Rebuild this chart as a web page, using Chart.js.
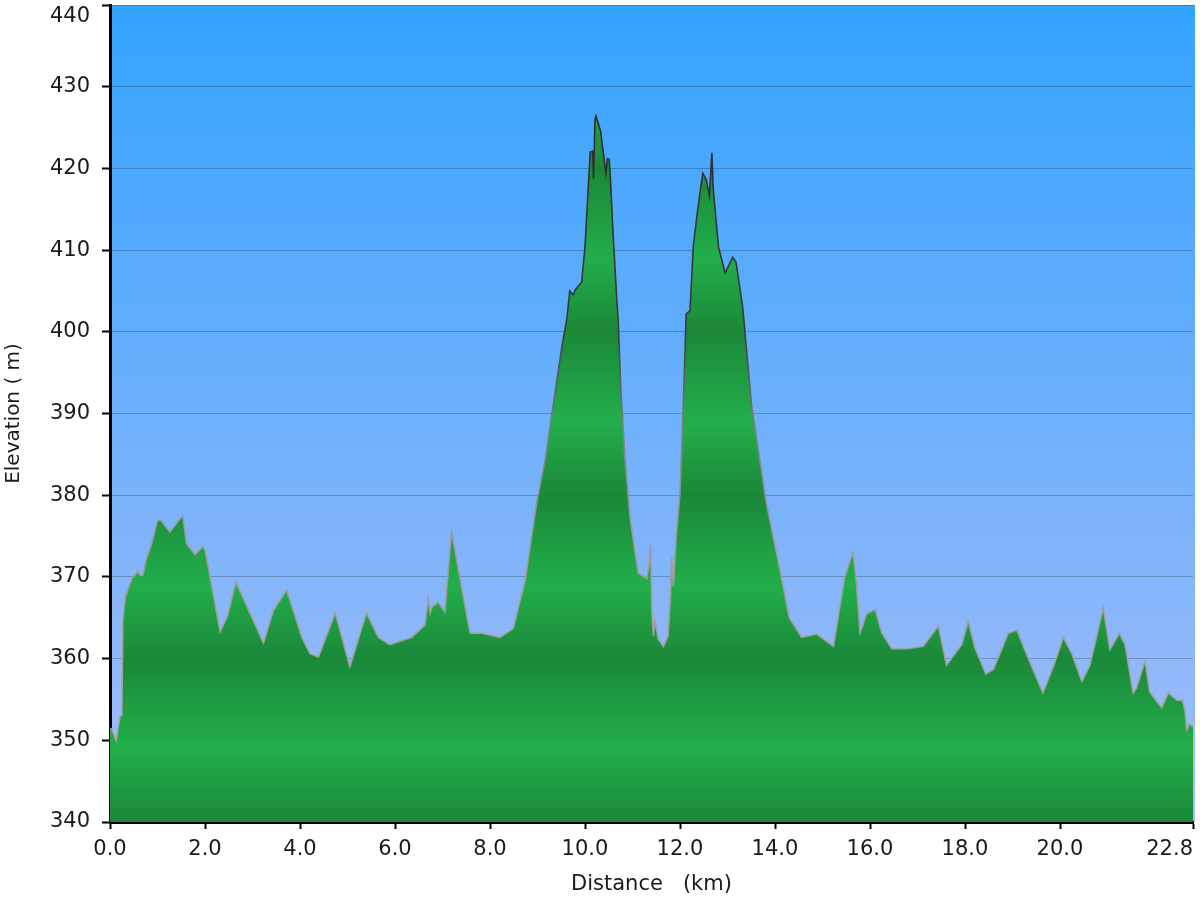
<!DOCTYPE html>
<html>
<head>
<meta charset="utf-8">
<script src="https://cdn.jsdelivr.net/npm/chart.js@4.4.1/dist/chart.umd.min.js"></script>
<style>
html,body{margin:0;padding:0;background:#fff;}
#wrap{width:1200px;height:900px;position:relative;}
</style>
</head>
<body>
<div id="wrap"><canvas id="c" width="1200" height="900"></canvas></div>
<script>
const distancesKm = [
  0.00,0.04,0.13,0.21,0.25,0.27,0.32,0.46,0.59,0.63,0.69,0.76,0.88,1.00,1.07,1.26,1.53,1.61,1.79,1.95,
  2.00,2.32,2.48,2.65,3.23,3.44,3.72,4.04,4.21,4.39,4.74,5.05,5.40,5.65,5.89,6.35,6.63,6.70,6.74,6.79,
  6.91,7.05,7.19,7.58,7.83,8.21,8.49,8.74,8.98,9.16,9.33,9.52,9.62,9.68,9.75,9.79,9.93,10.00,10.11,10.16,
  10.18,10.21,10.23,10.28,10.33,10.37,10.44,10.47,10.51,10.54,10.60,10.67,10.70,10.75,10.84,10.95,11.12,11.30,11.35,11.38,
  11.41,11.44,11.47,11.54,11.65,11.75,11.81,11.82,11.86,11.92,12.00,12.07,12.13,12.21,12.28,12.35,12.42,12.48,12.55,12.62,
  12.67,12.70,12.81,12.95,13.11,13.18,13.32,13.51,13.82,14.11,14.30,14.56,14.88,15.23,15.47,15.64,15.71,15.79,15.93,16.11,
  16.25,16.46,16.77,17.12,17.44,17.61,17.93,18.07,18.21,18.44,18.60,18.91,19.09,19.37,19.64,19.89,20.07,20.25,20.46,20.63,
  20.91,21.05,21.25,21.37,21.54,21.61,21.79,21.89,22.14,22.28,22.46,22.58,22.63,22.67,22.72,22.80
];
const elevationsM = [
  351.5,351.3,350.0,352.9,353.1,364.7,367.5,369.8,370.7,370.2,370.2,372.1,374.1,376.9,376.9,375.5,377.5,374.1,372.7,373.7,
  373.3,363.3,365.3,369.4,361.9,365.9,368.4,362.6,360.6,360.2,365.6,359.0,365.6,362.6,361.7,362.6,364.1,367.4,365.6,366.4,
  366.9,365.7,375.5,363.1,363.1,362.6,363.7,369.6,379.0,384.3,391.0,398.4,401.7,405.0,404.5,405.1,406.1,410.4,422.0,422.1,
  418.7,425.9,426.4,425.5,424.5,422.6,419.4,421.2,421.1,418.2,411.0,403.9,401.3,393.4,384.6,377.2,370.5,369.8,371.6,373.9,
  365.5,362.8,364.6,362.4,361.5,362.8,368.9,372.4,368.9,375.0,380.2,391.2,402.2,402.6,410.5,413.9,417.0,419.4,418.7,416.6,
  421.9,417.5,410.4,407.2,409.1,408.5,403.0,390.8,379.0,370.7,365.0,362.6,363.0,361.5,370.0,373.0,369.6,363.1,365.5,366.0,
  363.1,361.2,361.2,361.5,364.0,359.2,361.7,364.6,361.3,358.1,358.7,363.1,363.5,359.5,355.8,359.5,362.6,360.6,357.2,359.2,
  366.2,361.1,363.1,361.7,355.8,356.4,359.7,355.9,354.0,355.8,354.9,354.9,353.7,351.3,352.0,351.7
];
const xTickValues = [0,2,4,6,8,10,12,14,16,18,20,22.8];
const yTickValues = [340,350,360,370,380,390,400,410,420,430,440];
const xTitle = 'Distance   (km)';
const yTitle = 'Elevation ( m)';

const FONT = 'DejaVu Sans';
let fillGrad = null, lineGrad = null, gradKey = '';

function buildGradients(chart) {
  const {ctx, chartArea, scales} = chart;
  const key = chartArea.top + ':' + chartArea.bottom;
  if (fillGrad && gradKey === key) return;
  gradKey = key;
  const yTop = scales.y.getPixelForValue(440), yBot = scales.y.getPixelForValue(340);
  const pos = v => (440 - v) / 100;
  fillGrad = ctx.createLinearGradient(0, yTop, 0, yBot);
  const dark = '#1b8838', bright = '#22ae4b';
  [[440,dark],[429,bright],[420,dark],[409,bright],[400,dark],[389,bright],[380,dark],[369,bright],[360,dark],[349,bright],[340,dark]]
    .forEach(([v,c]) => fillGrad.addColorStop(pos(v), c));
  lineGrad = ctx.createLinearGradient(0, yTop, 0, yBot);
  [[440,'#262626'],[400,'#3a3a3a'],[388,'#808080'],[375,'#9c9c9c'],[340,'#a8a8a8']]
    .forEach(([v,c]) => lineGrad.addColorStop(pos(v), c));
}

const bgPlugin = {
  id: 'plotBg',
  beforeDraw(chart) {
    const {ctx, chartArea: a} = chart;
    ctx.save();
    ctx.fillStyle = '#ffffff';
    ctx.fillRect(0, 0, chart.width, chart.height);
    const g = ctx.createLinearGradient(0, a.top, 0, a.bottom);
    g.addColorStop(0, '#33a3ff');
    g.addColorStop(1, '#a7bdf8');
    ctx.fillStyle = g;
    ctx.fillRect(a.left, a.top, a.right - a.left + 2, a.bottom - a.top);
    ctx.restore();
  }
};

new Chart(document.getElementById('c'), {
  type: 'line',
  data: {
    datasets: [{
      data: distancesKm.map((d, i) => ({x: d, y: elevationsM[i]})),
      fill: 'start',
      tension: 0,
      pointRadius: 0,
      borderWidth: 1.6,
      borderColor: (c) => { const ch = c.chart; if (!ch.chartArea) return '#777'; buildGradients(ch); return lineGrad; },
      backgroundColor: (c) => { const ch = c.chart; if (!ch.chartArea) return '#22ae4b'; buildGradients(ch); return fillGrad; }
    }]
  },
  options: {
    responsive: false,
    animation: false,
    devicePixelRatio: 1,
    layout: {padding: {top: 5, right: 7, left: 0, bottom: 0}},
    plugins: {legend: {display: false}, tooltip: {enabled: false}},
    scales: {
      x: {
        type: 'linear',
        min: 0, max: 22.8,
        z: 1,
        afterBuildTicks: (s) => { s.ticks = xTickValues.map(v => ({value: v})); },
        afterFit: (s) => { s.height = 78; s.paddingLeft = 0; s.paddingRight = 0; },
        border: {display: true, color: '#000', width: 3},
        grid: {drawOnChartArea: false, drawTicks: true, tickLength: 7, tickColor: '#000', tickWidth: 2},
        ticks: {
          autoSkip: false, maxRotation: 0, padding: 8, color: '#1a1a1a',
          font: {family: FONT, size: 21},
          callback: (v) => v === 22.8 ? '22.8       ' : Number(v).toFixed(1)
        },
        title: {display: true, text: xTitle, color: '#1a1a1a', font: {family: FONT, size: 21}, padding: {top: 0, bottom: 3}}
      },
      y: {
        min: 340, max: 440,
        z: 1,
        afterBuildTicks: (s) => { s.ticks = yTickValues.map(v => ({value: v})); },
        afterFit: (s) => { s.width = 110; s.paddingTop = 0; s.paddingBottom = 0; },
        border: {display: true, color: '#000', width: 3},
        grid: {color: 'rgba(0,0,0,0.22)', lineWidth: 1, drawTicks: true, tickLength: 8, tickColor: '#000', tickWidth: 2},
        ticks: {
          padding: 12, color: '#1a1a1a',
          font: {family: FONT, size: 21, lineHeight: 1.1},
          callback: (v) => v === 440 ? ['', '440'] : String(v)
        },
        title: {display: true, text: yTitle, color: '#1a1a1a', font: {family: FONT, size: 20}, padding: {top: 2, bottom: 0}}
      }
    }
  },
  plugins: [bgPlugin]
});
</script>
</body>
</html>
